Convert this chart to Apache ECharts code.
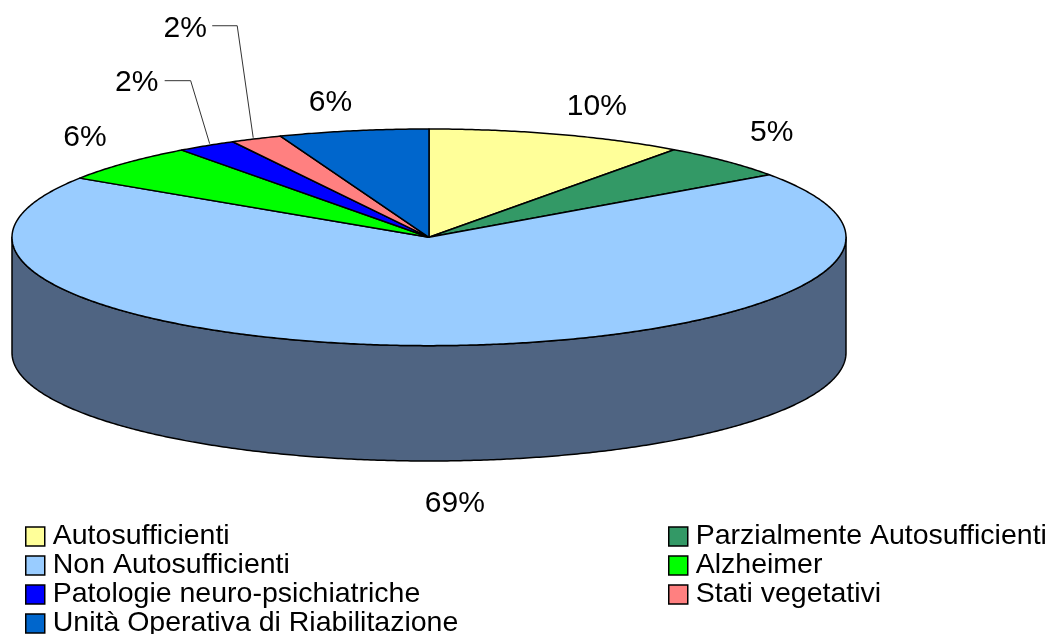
<!DOCTYPE html>
<html>
<head>
<meta charset="utf-8">
<style>
  html, body { margin: 0; padding: 0; background: #fff; }
  #chart { width: 1048px; height: 634px; }
</style>
<script src="https://cdn.jsdelivr.net/npm/echarts@6/dist/echarts.min.js"></script>
</head>
<body>
<div id="chart"></div>
<script>
const categories = [
  'Autosufficienti',
  'Parzialmente Autosufficienti',
  'Non Autosufficienti',
  'Alzheimer',
  'Patologie neuro-psichiatriche',
  'Stati vegetativi',
  'Unità Operativa di Riabilitazione'
]
// share of each slice
const values = [10, 5.2, 69, 5.7, 2.3, 2, 5.8]
const colors = ['#ffff99', '#339966', '#99ccff', '#00ff00', '#0000ff', '#ff8080', '#0066cc']

// layout only: label offset from the rim midpoint of the slice, in pixels
const labelOffsets = [[39, -28], [46, -28], [18, 43], [-41, -25], [-70, -63], [-71, -110], [-23, -28]]
// leader lines for the two thin slices, pixels relative to the rim midpoint
const leaders = { 4: [[3, -2], [-16, -65], [-42, -65]], 5: [[-3, -1], [-19, -113], [-44, -113]] }

const wallColor = '#4f6482'
const depth = 1.065 // height of the wall in y axis units
const fontFamily = '"Liberation Sans", Arial, sans-serif'
const total = values.reduce((a, b) => a + b, 0)

function rimPoint(angle, drop) {
  return [Math.sin(angle), Math.cos(angle) - (drop || 0)]
}

function arcPoints(from, to, drop) {
  const pts = []
  const steps = Math.max(2, Math.ceil(Math.abs(to - from) / 0.008))
  for (let i = 0; i <= steps; i++) {
    pts.push(rimPoint(from + (to - from) * i / steps, drop))
  }
  return pts
}

function renderSlice(index, params, api) {
  const before = values.slice(0, index).reduce((a, b) => a + b, 0)
  const start = before / total * Math.PI * 2
  const end = (before + api.value(0)) / total * Math.PI * 2
  const mid = (start + end) / 2
  const children = []
  const lineStyle = { stroke: '#000', lineWidth: 1.5, lineJoin: 'round' }

  // side wall, only the part that faces the viewer
  const wallFrom = Math.max(start, Math.PI / 2)
  const wallTo = Math.min(end, Math.PI * 1.5)
  if (wallTo > wallFrom) {
    const wall = arcPoints(wallFrom, wallTo, 0).concat(arcPoints(wallTo, wallFrom, depth))
    children.push({
      type: 'polygon',
      shape: { points: wall.map(p => api.coord(p)) },
      style: Object.assign({ fill: wallColor }, lineStyle)
    })
  }

  const top = [[0, 0]].concat(arcPoints(start, end, 0))
  children.push({
    type: 'polygon',
    shape: { points: top.map(p => api.coord(p)) },
    style: Object.assign({ fill: colors[index] }, lineStyle)
  })

  // the label hangs off the bottom rim for the big front slice
  const rim = api.coord(rimPoint(mid, mid > Math.PI / 2 && mid < Math.PI * 1.5 ? depth : 0))
  if (leaders[index]) {
    children.push({
      type: 'polyline',
      shape: { points: leaders[index].map(o => [rim[0] + o[0], rim[1] + o[1]]) },
      style: { stroke: '#333', lineWidth: 1, fill: null }
    })
  }
  children.push({
    type: 'text',
    x: rim[0] + labelOffsets[index][0],
    y: rim[1] + labelOffsets[index][1],
    style: {
      text: Math.round(api.value(0)) + '%',
      fill: '#000',
      font: '30px ' + fontFamily,
      align: 'center',
      verticalAlign: 'middle'
    }
  })
  return { type: 'group', children }
}

function makeLegend(names, left) {
  return {
    data: names,
    orient: 'vertical',
    left,
    top: 522,
    height: 120,
    padding: 0,
    itemWidth: 19,
    itemHeight: 19,
    itemGap: 0,
    selectedMode: false,
    icon: 'rect',
    textStyle: { fontFamily, fontSize: 28.5, color: '#000', lineHeight: 28.7, padding: [0, 0, 0, 3] },
    itemStyle: { borderColor: '#000', borderWidth: 1.5 }
  }
}

const chart = echarts.init(document.getElementById('chart'))
chart.setOption({
  animation: false,
  backgroundColor: '#fff',
  grid: { left: 12, top: 129, width: 834, height: 332 },
  xAxis: { type: 'value', min: -1, max: 1, show: false },
  yAxis: { type: 'value', min: -1 - depth, max: 1, show: false },
  legend: [
    makeLegend([categories[0], categories[2], categories[4], categories[6]], 25),
    makeLegend([categories[1], categories[3], categories[5]], 668)
  ],
  series: categories.map((name, i) => ({
    type: 'custom',
    name,
    silent: true,
    itemStyle: { color: colors[i] },
    data: [[values[i]]],
    renderItem: (params, api) => renderSlice(i, params, api)
  }))
})
</script>
</body>
</html>
